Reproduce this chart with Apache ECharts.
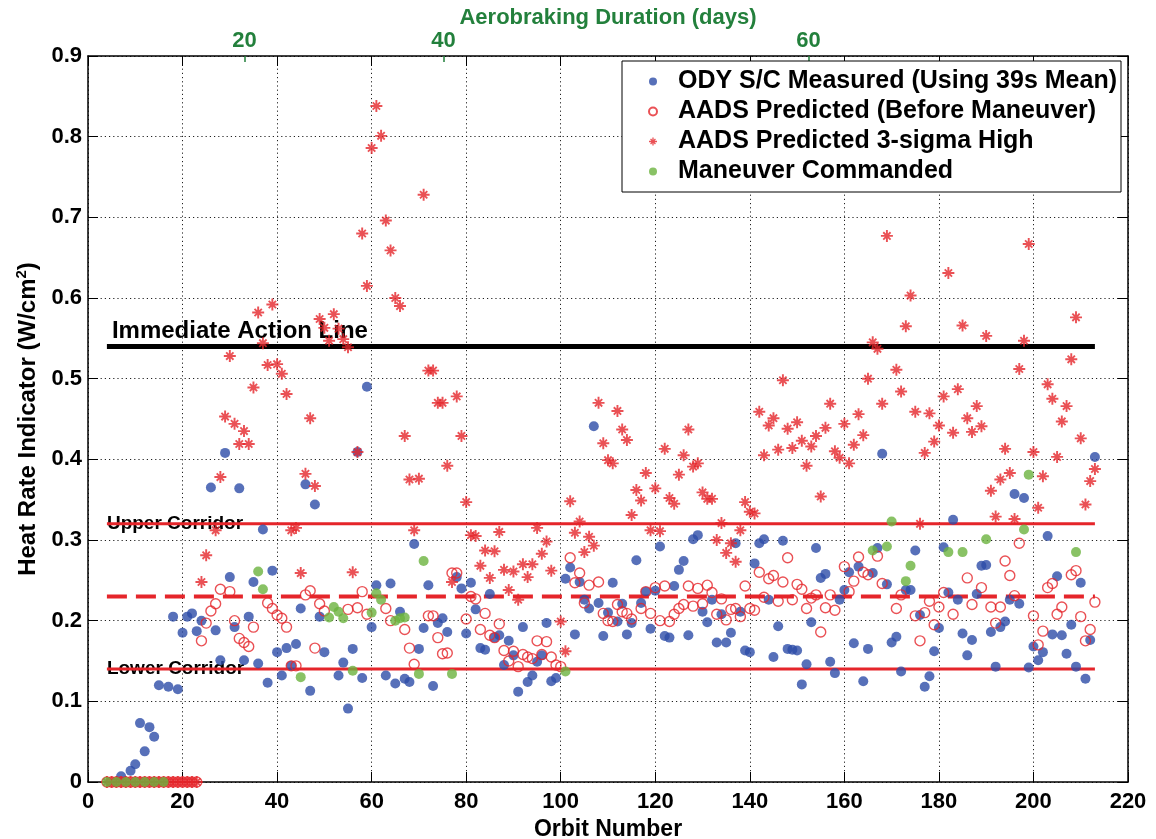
<!DOCTYPE html>
<html>
<head>
<meta charset="utf-8">
<title>Heat Rate Indicator</title>
<script src="https://cdn.jsdelivr.net/npm/echarts@6/dist/echarts.min.js"></script>
<style>html,body{margin:0;padding:0;background:#fff;}</style>
</head>
<body>
<div id="main" style="width:1156px;height:839px;"></div>
<script>
// values: [orbit number, heat rate indicator W/cm^2]
var measured = [[7,0.007],[9,0.014],[10,0.022],[11,0.073],[12,0.038],[13,0.068],[14,0.056],[15,0.12],[17,0.118],[18,0.205],[19,0.115],[20,0.185],[21,0.205],[22,0.209],[23,0.187],[24,0.2],[26,0.365],[27,0.188],[28,0.151],[29,0.408],[30,0.254],[31,0.192],[32,0.364],[33,0.151],[34,0.205],[35,0.248],[36,0.147],[37,0.313],[38,0.123],[39,0.262],[40,0.161],[41,0.132],[42,0.166],[43,0.144],[44,0.171],[45,0.215],[46,0.369],[47,0.113],[48,0.344],[49,0.205],[50,0.161],[53,0.132],[54,0.148],[55,0.091],[56,0.165],[57,0.409],[58,0.129],[59,0.49],[60,0.192],[61,0.244],[63,0.132],[64,0.246],[65,0.122],[66,0.211],[67,0.128],[68,0.124],[69,0.295],[70,0.165],[71,0.191],[72,0.244],[73,0.119],[74,0.197],[75,0.203],[76,0.186],[78,0.254],[79,0.24],[80,0.184],[81,0.247],[82,0.214],[83,0.166],[84,0.164],[85,0.233],[86,0.179],[87,0.182],[88,0.145],[89,0.175],[90,0.157],[91,0.112],[92,0.192],[93,0.124],[94,0.132],[95,0.149],[96,0.157],[97,0.197],[98,0.125],[99,0.129],[101,0.252],[102,0.266],[103,0.183],[104,0.248],[105,0.226],[106,0.215],[107,0.441],[108,0.222],[109,0.181],[110,0.21],[111,0.247],[112,0.199],[113,0.221],[114,0.183],[115,0.197],[116,0.275],[117,0.222],[118,0.236],[119,0.19],[120,0.237],[121,0.292],[122,0.181],[123,0.179],[124,0.243],[125,0.263],[126,0.274],[127,0.182],[128,0.301],[129,0.306],[130,0.211],[131,0.198],[132,0.226],[133,0.173],[134,0.208],[135,0.173],[136,0.185],[137,0.296],[138,0.211],[139,0.163],[140,0.161],[141,0.271],[142,0.296],[143,0.301],[144,0.226],[145,0.155],[146,0.193],[147,0.299],[148,0.165],[149,0.164],[150,0.163],[151,0.121],[152,0.146],[153,0.198],[154,0.29],[155,0.253],[156,0.258],[157,0.149],[158,0.135],[159,0.226],[160,0.238],[161,0.26],[162,0.172],[163,0.267],[164,0.125],[165,0.165],[166,0.259],[167,0.29],[168,0.407],[169,0.245],[170,0.173],[171,0.18],[172,0.137],[173,0.238],[174,0.238],[175,0.287],[176,0.207],[177,0.118],[178,0.131],[179,0.162],[180,0.191],[181,0.291],[182,0.235],[183,0.325],[184,0.226],[185,0.184],[186,0.157],[187,0.176],[188,0.233],[189,0.268],[190,0.269],[191,0.186],[192,0.143],[193,0.192],[194,0.199],[195,0.226],[196,0.357],[197,0.221],[198,0.352],[199,0.142],[200,0.168],[201,0.151],[202,0.161],[203,0.305],[204,0.183],[205,0.255],[206,0.182],[207,0.159],[208,0.195],[209,0.143],[210,0.247],[211,0.128],[212,0.176],[213,0.403]];

var predicted = [[4,0],[5,0],[6,0],[7,0],[8,0],[9,0],[10,0],[11,0],[12,0],[13,0],[14,0],[15,0],[16,0],[17,0],[18,0],[19,0],[20,0],[21,0],[22,0],[23,0],[24,0.175],[25,0.197],[26,0.212],[27,0.221],[28,0.239],[30,0.236],[31,0.2],[32,0.178],[33,0.173],[34,0.168],[35,0.192],[38,0.222],[39,0.215],[40,0.207],[41,0.203],[42,0.192],[43,0.144],[44,0.144],[46,0.232],[47,0.237],[48,0.166],[49,0.221],[50,0.212],[55,0.214],[57,0.216],[58,0.236],[59,0.208],[63,0.215],[64,0.2],[67,0.189],[68,0.166],[69,0.146],[72,0.206],[73,0.206],[74,0.179],[75,0.159],[76,0.16],[77,0.259],[78,0.259],[80,0.202],[81,0.23],[82,0.227],[83,0.189],[84,0.209],[85,0.182],[86,0.179],[87,0.196],[88,0.163],[89,0.15],[90,0.162],[91,0.143],[92,0.158],[93,0.155],[94,0.153],[95,0.175],[96,0.158],[97,0.174],[98,0.155],[99,0.145],[100,0.143],[102,0.278],[103,0.247],[104,0.259],[105,0.222],[106,0.244],[108,0.248],[109,0.209],[110,0.2],[111,0.199],[112,0.22],[113,0.211],[114,0.209],[115,0.202],[117,0.215],[118,0.236],[119,0.209],[120,0.241],[121,0.2],[122,0.243],[123,0.199],[124,0.208],[125,0.215],[126,0.22],[127,0.243],[128,0.218],[129,0.24],[130,0.221],[131,0.244],[132,0.235],[133,0.208],[134,0.227],[135,0.201],[136,0.214],[137,0.215],[138,0.205],[139,0.243],[140,0.215],[141,0.213],[142,0.26],[143,0.229],[144,0.252],[145,0.256],[146,0.224],[147,0.248],[148,0.278],[149,0.226],[150,0.245],[151,0.239],[152,0.215],[153,0.228],[154,0.232],[155,0.186],[156,0.216],[157,0.232],[158,0.213],[160,0.267],[161,0.236],[162,0.249],[163,0.279],[164,0.26],[165,0.257],[167,0.28],[168,0.246],[171,0.215],[172,0.232],[175,0.206],[176,0.175],[177,0.21],[178,0.224],[179,0.195],[180,0.217],[181,0.235],[183,0.208],[186,0.253],[187,0.22],[189,0.241],[191,0.217],[192,0.197],[193,0.217],[194,0.274],[195,0.256],[196,0.231],[197,0.296],[200,0.206],[201,0.17],[202,0.187],[203,0.241],[204,0.246],[205,0.208],[206,0.217],[208,0.257],[209,0.262],[210,0.205],[211,0.175],[212,0.189],[213,0.223]];

var predictedHigh = [[4,0],[5,0],[6,0],[7,0],[8,0],[9,0],[10,0],[11,0],[12,0],[13,0],[14,0],[15,0],[16,0],[17,0],[18,0],[19,0],[20,0],[21,0],[22,0],[23,0],[24,0.248],[25,0.281],[27,0.312],[28,0.378],[29,0.453],[30,0.528],[31,0.444],[32,0.419],[33,0.435],[34,0.419],[35,0.489],[36,0.582],[37,0.544],[38,0.517],[39,0.592],[40,0.518],[41,0.506],[42,0.481],[43,0.312],[44,0.315],[45,0.259],[46,0.382],[47,0.451],[48,0.367],[49,0.574],[50,0.563],[51,0.547],[52,0.58],[53,0.562],[54,0.549],[55,0.539],[56,0.26],[57,0.409],[58,0.68],[59,0.615],[60,0.786],[61,0.838],[62,0.801],[63,0.696],[64,0.659],[65,0.6],[66,0.59],[67,0.429],[68,0.375],[69,0.312],[70,0.376],[71,0.728],[72,0.51],[73,0.51],[74,0.47],[75,0.47],[76,0.392],[77,0.248],[78,0.478],[79,0.429],[80,0.347],[81,0.306],[82,0.305],[83,0.268],[84,0.287],[85,0.253],[86,0.286],[87,0.31],[88,0.263],[89,0.238],[90,0.261],[91,0.226],[92,0.27],[93,0.254],[94,0.27],[95,0.315],[96,0.283],[97,0.298],[98,0.262],[100,0.199],[101,0.162],[102,0.348],[103,0.309],[104,0.323],[105,0.285],[106,0.304],[107,0.293],[108,0.47],[109,0.42],[110,0.399],[111,0.395],[112,0.46],[113,0.437],[114,0.424],[115,0.331],[116,0.362],[117,0.349],[118,0.383],[119,0.312],[120,0.364],[121,0.311],[122,0.413],[123,0.352],[124,0.345],[125,0.381],[126,0.405],[127,0.437],[128,0.391],[129,0.395],[130,0.359],[131,0.351],[132,0.351],[133,0.3],[134,0.321],[135,0.284],[136,0.296],[137,0.273],[138,0.312],[139,0.347],[140,0.335],[141,0.333],[142,0.459],[143,0.405],[144,0.442],[145,0.451],[146,0.412],[147,0.498],[148,0.438],[149,0.414],[150,0.446],[151,0.423],[152,0.392],[153,0.416],[154,0.429],[155,0.354],[156,0.439],[157,0.469],[158,0.41],[159,0.402],[160,0.444],[161,0.395],[162,0.418],[163,0.456],[164,0.43],[165,0.5],[166,0.545],[167,0.537],[168,0.469],[169,0.677],[171,0.511],[172,0.484],[173,0.565],[174,0.603],[175,0.459],[176,0.32],[177,0.408],[178,0.457],[179,0.422],[180,0.442],[181,0.478],[182,0.631],[183,0.433],[184,0.487],[185,0.566],[186,0.451],[187,0.434],[188,0.466],[189,0.441],[190,0.553],[191,0.361],[192,0.329],[193,0.375],[194,0.413],[195,0.383],[196,0.326],[197,0.512],[198,0.547],[199,0.667],[200,0.409],[201,0.34],[202,0.379],[203,0.493],[204,0.475],[205,0.403],[206,0.447],[207,0.466],[208,0.524],[209,0.576],[210,0.426],[211,0.344],[212,0.373],[213,0.388]];

var maneuvers = [[4,0],[6,0],[8,0],[10,0],[12,0],[14,0],[16,0],[36,0.261],[37,0.239],[45,0.13],[51,0.204],[52,0.217],[53,0.211],[54,0.203],[56,0.138],[60,0.21],[61,0.234],[62,0.226],[65,0.2],[66,0.203],[67,0.204],[70,0.134],[71,0.274],[77,0.134],[101,0.137],[166,0.287],[169,0.292],[170,0.323],[173,0.249],[174,0.268],[182,0.285],[185,0.285],[190,0.301],[198,0.313],[199,0.381],[209,0.285]];

// top axis: aerobraking days and the orbit where each falls
var dayTicks = [20, 40, 60];
var dayTickOrbits = [33.1, 75.2, 152.4];

// corridor / action lines
var refStart = 4, refEnd = 213;
var immediateLevel = 0.54;
var upperLevel = 0.32;
var targetLevel = 0.23;
var lowerLevel = 0.14;

var FONT = "'Liberation Sans', Arial, Helvetica, sans-serif";
var BLUE = '#2d4ca8';
var RED = '#e5252a';
var GREEN = '#6cb33f';
var DKGREEN = '#23803c';
var STAR = 'path://M4.2,0h1.6v10h-1.6z M0,4.2h10v1.6h-10z M1.4,2.5L2.5,1.4L8.6,7.5L7.5,8.6z M7.5,1.4L8.6,2.5L2.5,8.6L1.4,7.5z';

var chart = echarts.init(document.getElementById('main'));

function refLine(level, style) {
    return {
        type: 'line', data: [[refStart, level], [refEnd, level]],
        symbol: 'none', silent: true, z: 2, lineStyle: style, animation: false
    };
}
function refText(level, text, size, dist, dy) {
    return {
        type: 'scatter', data: [[refStart, level]], symbolSize: 0, silent: true, z: 1,
        itemStyle: {color: '#000'},
        label: {show: true, position: 'right', distance: dist, offset: [0, dy], formatter: text,
                fontFamily: FONT, fontWeight: 'bold', fontSize: size, color: '#000', opacity: 1}
    };
}

var dotted = {color: '#222', width: 1, type: [1.2, 3]};

var option = {
    animation: false,
    backgroundColor: '#fff',
    grid: {left: 88, right: 28, top: 56, bottom: 57, outerBoundsMode: 'none', containLabel: false},
    legend: {
        data: ['ODY S/C Measured (Using 39s Mean)', 'AADS Predicted (Before Maneuver)', 'AADS Predicted 3-sigma High', 'Maneuver Commanded'],
        orient: 'vertical', left: 622, top: 61, z: 10,
        padding: [8, 4, 8, 26], itemWidth: 40, itemHeight: 8, itemGap: 5,
        backgroundColor: '#fff', borderColor: '#000', borderWidth: 1,
        selectedMode: false,
        textStyle: {fontFamily: FONT, fontWeight: 'bold', fontSize: 25, color: '#000'}
    },
    xAxis: [{
        type: 'value', position: 'bottom', min: 0, max: 220, interval: 20,
        name: 'Orbit Number', nameLocation: 'middle', nameGap: 32,
        nameTextStyle: {fontFamily: FONT, fontWeight: 'bold', fontSize: 23, color: '#000'},
        axisLine: {show: true, onZero: false, lineStyle: {color: '#000', width: 1.5}},
        axisTick: {show: true, inside: true, length: 10, lineStyle: {color: '#000'}},
        axisLabel: {fontFamily: FONT, fontWeight: 'bold', fontSize: 22, color: '#000', margin: 9},
        splitLine: {show: true, lineStyle: dotted}
    }, {
        type: 'value', position: 'top', min: 0, max: 220, interval: 20,
        axisLine: {show: true, onZero: false, lineStyle: {color: '#000', width: 1.5}},
        axisTick: {show: true, inside: true, length: 10, lineStyle: {color: '#000'}},
        axisLabel: {show: false}, splitLine: {show: false}
    }, {
        type: 'value', position: 'top', min: 0, max: 220,
        name: 'Aerobraking Duration (days)', nameLocation: 'middle', nameGap: 27, nameMoveOverlap: false,
        nameTextStyle: {fontFamily: FONT, fontWeight: 'bold', fontSize: 22, color: DKGREEN},
        axisLine: {show: false, onZero: false},
        axisTick: {show: true, inside: true, length: 6, customValues: dayTickOrbits, lineStyle: {color: DKGREEN, width: 1.5}},
        axisLabel: {show: true, customValues: dayTickOrbits, margin: 4,
            fontFamily: FONT, fontWeight: 'bold', fontSize: 22, color: DKGREEN,
            formatter: function (v) {
                for (var i = 0; i < dayTickOrbits.length; i++) {
                    if (Math.abs(v - dayTickOrbits[i]) < 0.01) return String(dayTicks[i]);
                }
                return '';
            }},
        splitLine: {show: false}
    }],
    yAxis: [{
        type: 'value', position: 'left', min: 0, max: 0.9, interval: 0.1,
        name: 'Heat Rate Indicator (W/cm{sup|2})', nameLocation: 'middle', nameGap: 42,
        nameTextStyle: {fontFamily: FONT, fontWeight: 'bold', fontSize: 24, color: '#000',
            rich: {sup: {fontFamily: FONT, fontWeight: 'bold', fontSize: 15, color: '#000',
                         verticalAlign: 'bottom', padding: [0, 0, 14, 0]}}},
        axisLine: {show: true, onZero: false, lineStyle: {color: '#000', width: 1.5}},
        axisTick: {show: true, inside: true, length: 10, lineStyle: {color: '#000'}},
        axisLabel: {fontFamily: FONT, fontWeight: 'bold', fontSize: 22, color: '#000', margin: 6,
            formatter: function (v) { return v === 0 ? '0' : v.toFixed(1); }},
        splitLine: {show: true, lineStyle: dotted}
    }, {
        type: 'value', position: 'right', min: 0, max: 0.9, interval: 0.1,
        axisLine: {show: true, onZero: false, lineStyle: {color: '#000', width: 1.5}},
        axisTick: {show: true, inside: true, length: 10, lineStyle: {color: '#000'}},
        axisLabel: {show: false}, splitLine: {show: false}
    }],
    series: [
        refText(immediateLevel, 'Immediate Action Line', 24, 5, -15),
        refText(upperLevel, 'Upper Corridor', 19, 0, 0),
        refText(lowerLevel, 'Lower Corridor', 19, 0, 0),
        refLine(immediateLevel, {color: '#000', width: 5}),
        refLine(upperLevel, {color: RED, width: 3}),
        refLine(targetLevel, {color: RED, width: 4, type: [20, 9]}),
        refLine(lowerLevel, {color: RED, width: 3}),
        {
            name: 'ODY S/C Measured (Using 39s Mean)', type: 'scatter', data: measured, z: 3,
            symbol: 'circle', symbolSize: 10, itemStyle: {color: BLUE}
        }, {
            name: 'AADS Predicted (Before Maneuver)', type: 'scatter', data: predicted, z: 4,
            symbol: 'circle', symbolSize: 10,
            itemStyle: {color: 'rgba(255,255,255,0)', borderColor: RED, borderWidth: 1.4}
        }, {
            name: 'AADS Predicted 3-sigma High', type: 'scatter', data: predictedHigh, z: 5,
            symbol: STAR, symbolSize: 12, itemStyle: {color: RED}
        }, {
            name: 'Maneuver Commanded', type: 'scatter', data: maneuvers, z: 6,
            symbol: 'circle', symbolSize: 10, itemStyle: {color: GREEN}
        }
    ]
};

chart.setOption(option);
</script>
</body>
</html>
